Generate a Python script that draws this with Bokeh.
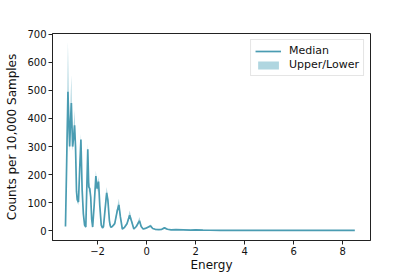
from bokeh.plotting import figure
from bokeh.models import ColumnDataSource, Range1d, FixedTicker, Legend, LegendItem
from bokeh.embed import file_html
from bokeh.resources import INLINE

energy = [-3.31, -3.26, -3.21, -3.17, -3.14, -3.10, -3.07, -3.04, -3.02, -2.98,
          -2.94, -2.90, -2.86, -2.83, -2.78, -2.73, -2.68, -2.63, -2.58, -2.53,
          -2.48, -2.40, -2.36, -2.32, -2.28, -2.24, -2.20, -2.14, -2.07, -2.02,
          -1.96, -1.91, -1.85, -1.80, -1.76, -1.70, -1.63, -1.58, -1.52, -1.49,
          -1.46, -1.40, -1.30, -1.20, -1.13, -1.07, -0.99, -0.90, -0.80,
          -0.69, -0.60, -0.52, -0.42, -0.29, -0.22, -0.14, -0.05, 0.05, 0.16,
          0.25, 0.35, 0.50, 0.62, 0.73, 0.85, 1.00, 1.20, 1.50, 1.80,
          2.00, 2.30, 2.60, 3.00, 4.00, 5.00, 6.00, 7.00, 8.00, 8.50]
median = [15, 250, 495, 380, 300, 400, 455, 360, 300, 330,
          376, 300, 140, 110, 102, 220, 325, 145, 60, 20,
          13, 290, 156, 150, 120, 40, 13, 90, 195, 150,
          175, 90, 20, 10, 14, 70, 135, 110, 38, 20,
          12, 15, 25, 70, 92, 50, 6, 12, 25,
          55, 30, 6, 15, 35, 15, 6, 8, 12, 17,
          8, 5, 4, 5, 10, 5, 3, 4, 3, 2,
          3, 2, 1.5, 1, 1, 1, 1, 1, 1, 1]
lower = [12, 200, 430, 330, 280, 370, 415, 330, 285, 310,
         350, 275, 125, 100, 92, 205, 300, 130, 52, 16,
         10, 270, 140, 138, 108, 34, 10, 80, 180, 138,
         160, 80, 16, 8, 11, 60, 122, 100, 32, 16,
         9, 12, 20, 60, 80, 42, 4, 9, 20,
         48, 25, 4, 12, 30, 12, 4, 6, 9, 14,
         6, 4, 3, 3, 8, 3, 2, 3, 2, 1,
         2, 1, 1, 0.5, 0.5, 0.5, 0.5, 0.5, 0.5, 0.5]
upper = [18, 330, 674, 470, 330, 480, 555, 400, 320, 365,
         430, 330, 160, 125, 115, 240, 346, 165, 70, 25,
         16, 311, 175, 165, 135, 48, 16, 100, 215, 165,
         191, 100, 25, 13, 17, 85, 156, 125, 45, 25,
         15, 18, 30, 85, 114, 60, 8, 15, 30,
         72, 38, 8, 18, 49, 20, 8, 10, 15, 22,
         10, 7, 6, 7, 13, 7, 5, 6, 4, 3,
         5, 3, 2.5, 2, 1.5, 1.5, 1.5, 1.5, 1.5, 1.5]

x_ticks = [-2, 0, 2, 4, 6, 8]
x_tick_labels = {-2: "\u22122", 0: "0", 2: "2", 4: "4", 6: "6", 8: "8"}
y_ticks = [0, 100, 200, 300, 400, 500, 600, 700]

src = ColumnDataSource(dict(energy=energy, median=median, lower=lower, upper=upper))

p = figure(width=411, height=274, output_backend="svg", toolbar_location=None,
           x_range=Range1d(-3.84, 9.14), y_range=Range1d(-35, 703),
           min_border_left=52, min_border_right=41, min_border_top=33, min_border_bottom=34)

band = p.varea(x="energy", y1="lower", y2="upper", source=src,
               fill_color="#86c0cf", fill_alpha=0.65)
line = p.line(x="energy", y="median", source=src, line_color="#4a9cb2", line_width=1.7)

font = "DejaVu Sans"
p.xgrid.visible = False
p.ygrid.visible = False
p.outline_line_color = "#222222"
p.outline_line_width = 1
p.background_fill_color = "white"
p.border_fill_color = "white"

p.xaxis.ticker = FixedTicker(ticks=x_ticks)
p.xaxis.major_label_overrides = x_tick_labels
p.yaxis.ticker = FixedTicker(ticks=y_ticks)
for ax in (p.xaxis, p.yaxis):
    ax.minor_tick_line_color = None
    ax.major_tick_in = 0
    ax.major_tick_out = 4
    ax.major_tick_line_color = "#222222"
    ax.axis_line_color = "#222222"
    ax.major_label_text_font = font
    ax.major_label_text_font_size = "10px"
    ax.major_label_text_color = "#111111"
    ax.axis_label_text_font = font
    ax.axis_label_text_font_size = "12px"
    ax.axis_label_text_font_style = "normal"
    ax.axis_label_text_color = "#111111"
    ax.major_label_standoff = 2
p.xaxis.axis_label = "Energy"
p.yaxis.axis_label = "Counts per 10,000 Samples"
p.xaxis.axis_label_standoff = 0
p.yaxis.axis_label_standoff = 5

legend = Legend(items=[LegendItem(label="Median", renderers=[line]),
                       LegendItem(label="Upper/Lower", renderers=[band])],
                location="top_right")
legend.label_text_font = font
legend.label_text_font_size = "11px"
legend.label_text_color = "#111111"
legend.border_line_color = "#cccccc"
legend.border_line_width = 1
legend.background_fill_alpha = 0.8
legend.margin = 6
legend.padding = 4
legend.spacing = 1
legend.glyph_width = 26
legend.glyph_height = 10
legend.label_height = 12
legend.label_standoff = 8
p.add_layout(legend)

open("out.html", "w").write(file_html(p, INLINE))
